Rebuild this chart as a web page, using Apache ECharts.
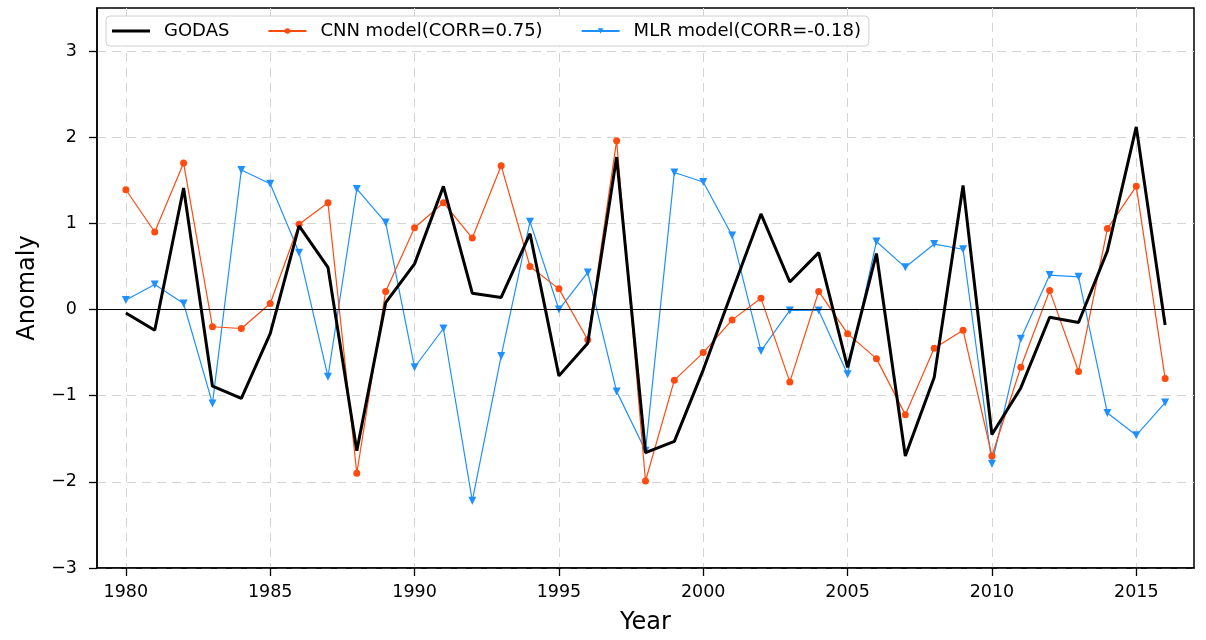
<!DOCTYPE html>
<html><head><meta charset="utf-8">
<script src="https://cdn.jsdelivr.net/npm/echarts@6/dist/echarts.min.js"></script>
<style>html,body{margin:0;padding:0;background:#fff}#c{width:1206px;height:640px}</style>
</head><body><div id="c"></div>
<script>
const years = [];
for (let y = 1980; y <= 2016; y++) years.push(y);
const godas = [-0.04,-0.24,1.41,-0.89,-1.03,-0.28,0.97,0.49,-1.64,0.08,0.53,1.43,0.19,0.14,0.88,-0.77,-0.39,1.77,-1.66,-1.53,-0.70,0.21,1.11,0.32,0.66,-0.67,0.65,-1.70,-0.79,1.44,-1.45,-0.91,-0.09,-0.15,0.68,2.12,-0.18];
const cnn = [1.39,0.90,1.70,-0.20,-0.22,0.07,0.99,1.24,-1.90,0.21,0.95,1.24,0.83,1.67,0.50,0.24,-0.35,1.96,-1.99,-0.82,-0.50,-0.12,0.13,-0.84,0.21,-0.28,-0.57,-1.22,-0.45,-0.24,-1.70,-0.67,0.22,-0.72,0.94,1.43,-0.80];
const mlr = [0.11,0.29,0.07,-1.09,1.62,1.46,0.66,-0.78,1.40,1.01,-0.67,-0.22,-2.22,-0.54,1.02,0.00,0.43,-0.95,-1.64,1.59,1.48,0.86,-0.48,-0.01,-0.01,-0.75,0.79,0.49,0.76,0.70,-1.79,-0.34,0.40,0.38,-1.20,-1.46,-1.08];
const xTicks = [1980,1985,1990,1995,2000,2005,2010,2015];
const yTicks = [-3,-2,-1,0,1,2,3];
const names = ['GODAS','CNN model(CORR=0.75)','MLR model(CORR=-0.18)'];

const pair = a => a.map((v,i)=>[years[i], v]);
const font = 'DejaVu Sans';
const chart = echarts.init(document.getElementById('c'), null, {renderer:'canvas'});
chart.setOption({
  animation:false,
  textStyle:{fontFamily:font},
  grid:{left:97,right:12,top:8,bottom:72,show:true,borderColor:'#000',borderWidth:1.5,backgroundColor:'transparent'},
  legend:{
    left:106, top:16, padding:[6,8,6,6], itemGap:38, itemWidth:38, itemHeight:7,
    borderColor:'#d0d0d0', borderWidth:1, borderRadius:4, backgroundColor:'#fff',
    textStyle:{fontFamily:font,fontSize:18,color:'#000',padding:[0,0,0,9]},
    data:[{name:names[0],icon:'path://M0,0H38V3H0Z'},names[1],names[2]]
  },
  xAxis:{
    type:'value', min:1979, max:2017,
    name:'Year', nameLocation:'middle', nameGap:43,
    nameTextStyle:{fontFamily:font,fontSize:24,color:'#000'},
    axisLine:{show:true,onZero:false,lineStyle:{color:'#000',width:1.5}},
    axisTick:{show:true,customValues:xTicks,length:8,lineStyle:{color:'#000',width:1.3}},
    axisLabel:{customValues:xTicks,fontFamily:font,fontSize:17.5,color:'#000',margin:15,formatter:v=>String(v)},
    splitLine:{show:true,lineStyle:{color:'#d4d4d4',type:[9,6],width:1}}
  },
  yAxis:{
    type:'value', min:-3, max:3.5, interval:1,
    name:'Anomaly', nameLocation:'middle', nameGap:57,
    nameTextStyle:{fontFamily:font,fontSize:24,color:'#000'},
    axisLine:{show:true,onZero:false,lineStyle:{color:'#000',width:1.5}},
    axisTick:{show:true,customValues:yTicks,length:8,lineStyle:{color:'#000',width:1.3}},
    axisLabel:{customValues:yTicks,fontFamily:font,fontSize:17.5,color:'#000',margin:20,formatter:v=>String(v).replace('-','\u2212')},
    splitLine:{show:true,lineStyle:{color:'#d4d4d4',type:[9,6],width:1}}
  },
  series:[
    {name:names[0],type:'line',data:pair(godas),symbol:'none',z:5,
     lineStyle:{color:'#000',width:3},itemStyle:{color:'#000'},
     markLine:{silent:true,symbol:'none',label:{show:false},lineStyle:{color:'#000',width:1,type:'solid'},data:[{yAxis:0}]}},
    {name:names[1],type:'line',data:pair(cnn),symbol:'circle',symbolSize:7,z:4,
     lineStyle:{color:'#ff4b0f',width:1.2},itemStyle:{color:'#ff4b0f'}},
    {name:names[2],type:'line',data:pair(mlr),symbol:'triangle',symbolRotate:180,symbolSize:8,z:3,
     lineStyle:{color:'#1e90ff',width:1.2},itemStyle:{color:'#1e90ff'}}
  ]
});
</script></body></html>
